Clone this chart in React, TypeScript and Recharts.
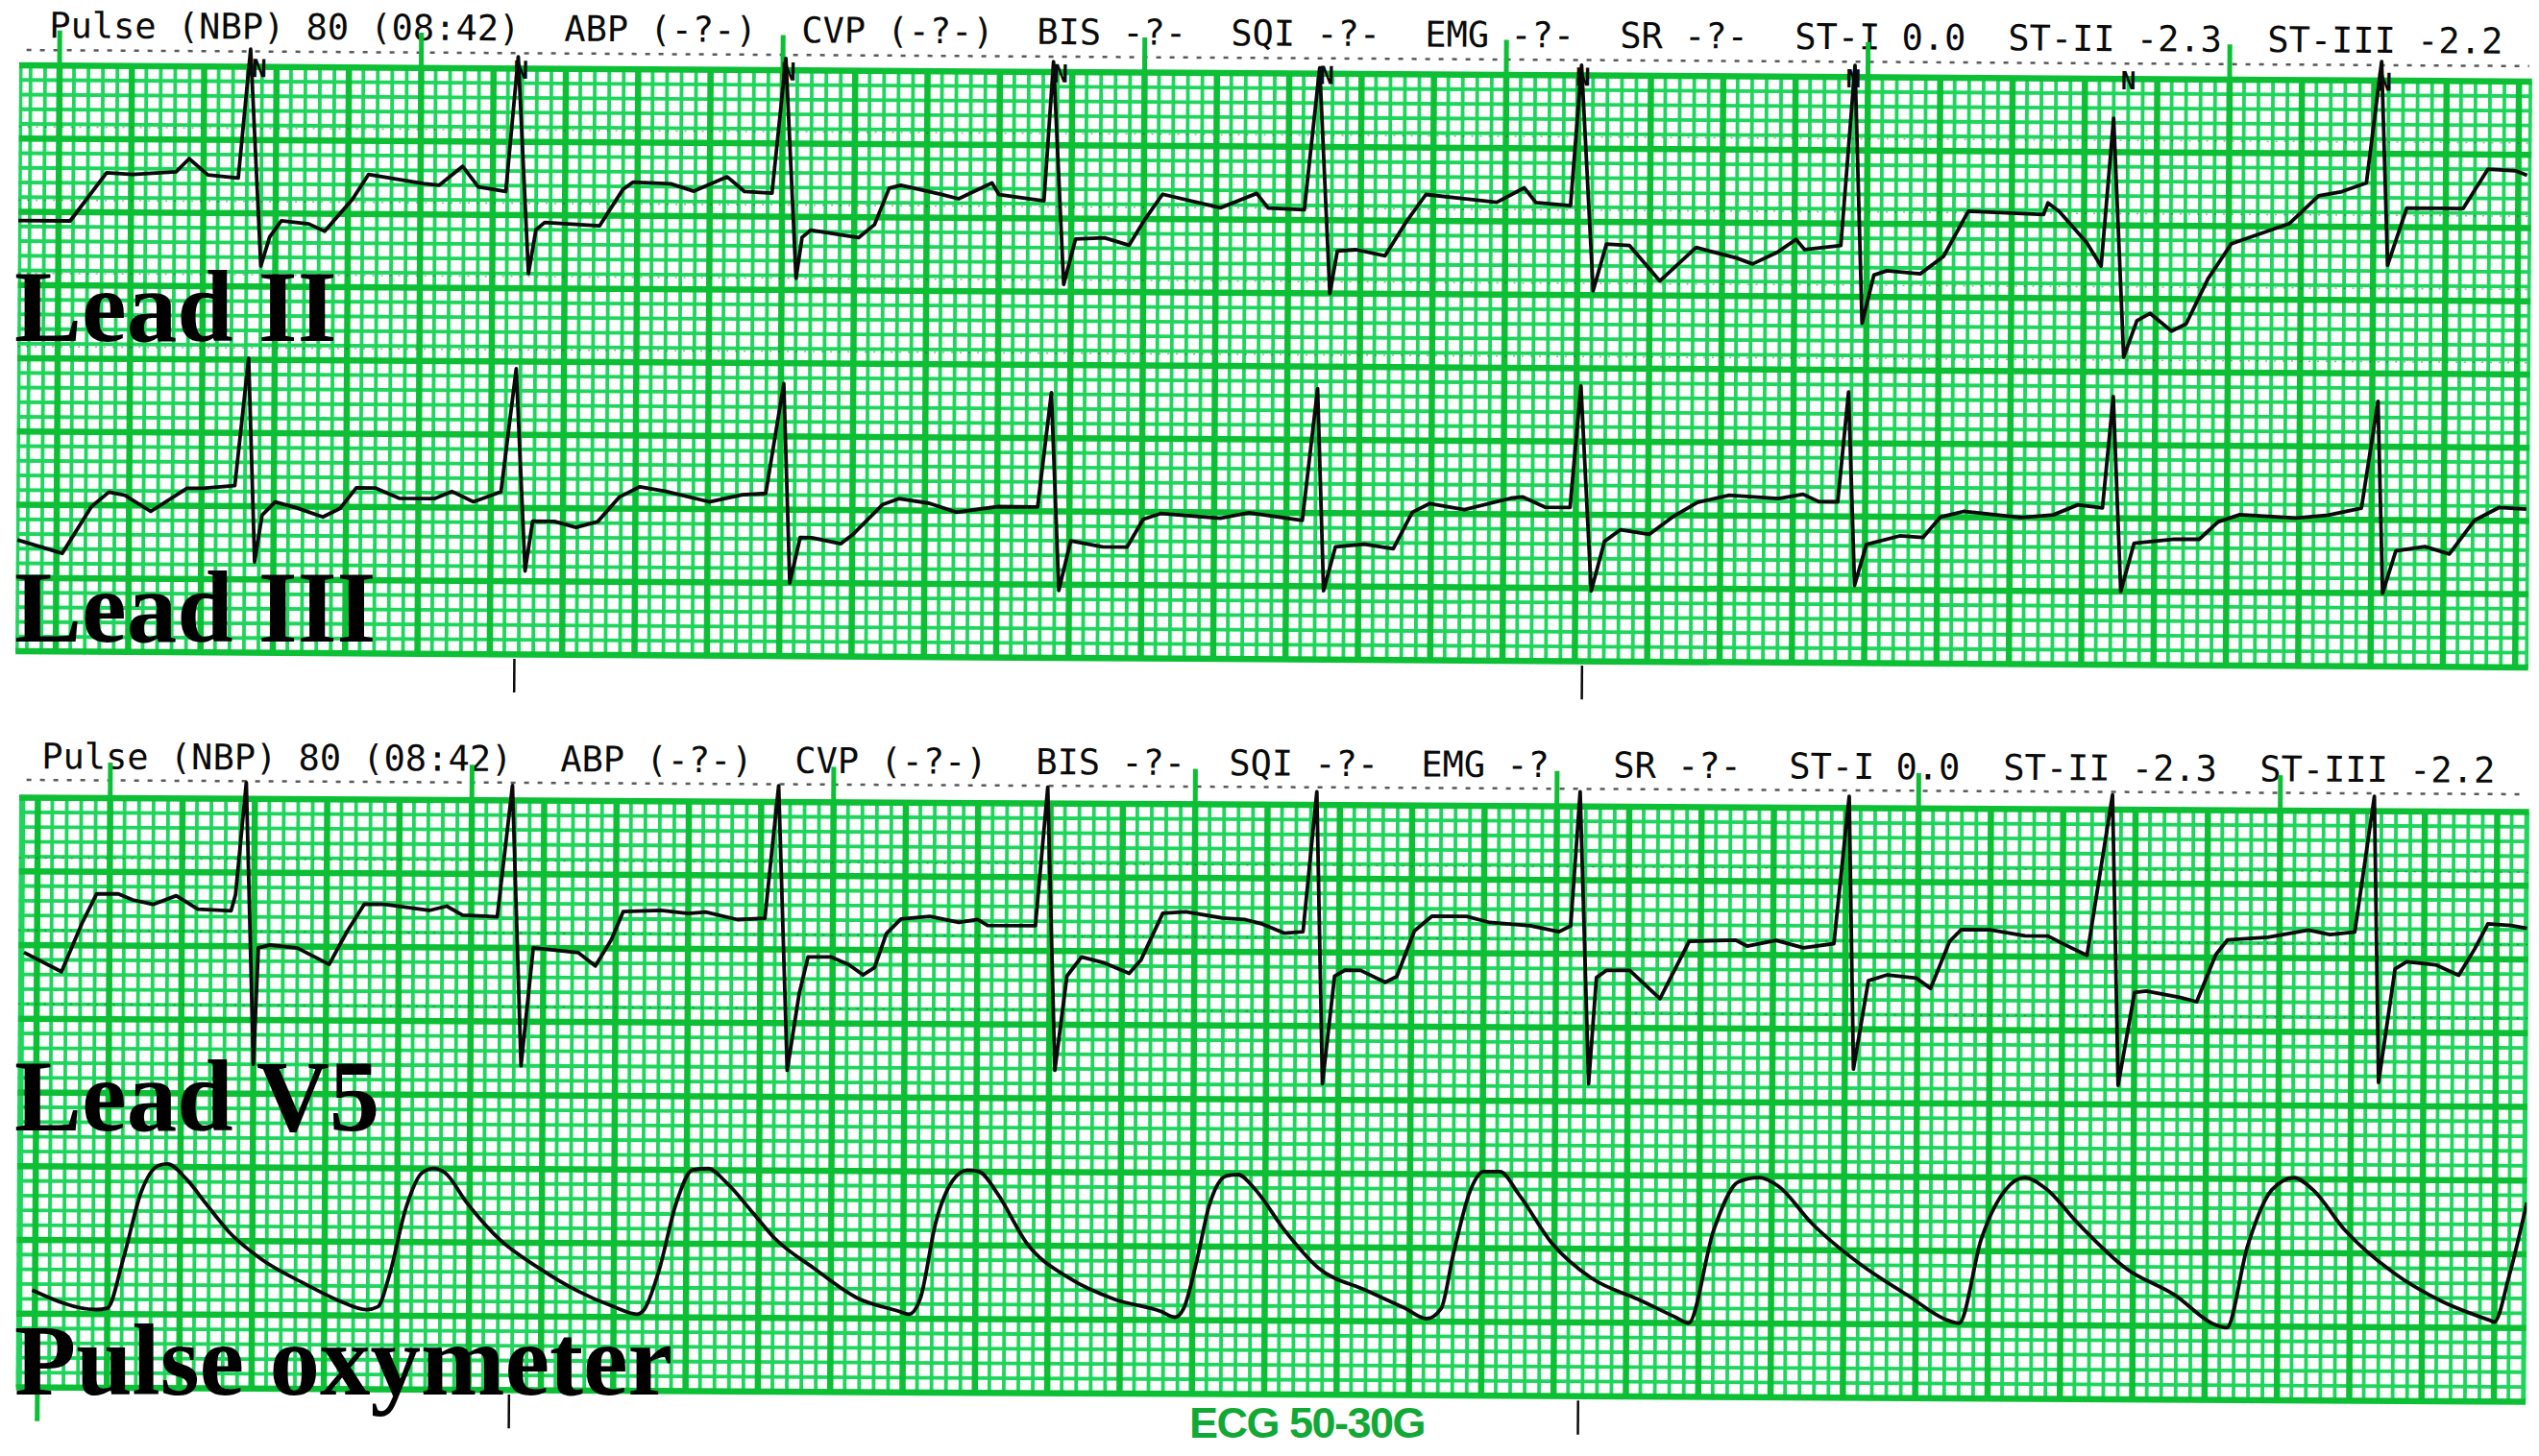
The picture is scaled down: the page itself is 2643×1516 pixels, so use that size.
import React from "react";
import { LineChart, Line, XAxis, YAxis, ReferenceLine, ReferenceDot } from "recharts";

// time in mm of paper (small squares), amplitude in mm above the strip's bottom edge
type Pt = [number, number];

const lead2: Pt[] = [
  [-2.8, 29.4], [0.8, 29.4], [3.3, 32.7], [5.1, 32.6], [8.1, 32.8], [9.0, 33.7], [10.3, 32.6], [12.4, 32.4],
  [13.2, 41.2], [14.0, 26.4], [14.6, 28.4], [15.4, 29.5], [17.3, 29.3], [18.4, 28.8], [20.3, 31.0], [21.4, 32.7],
  [25.2, 32.1], [26.3, 32.0], [27.9, 33.3], [29.0, 31.9], [30.9, 31.6], [31.7, 40.8], [32.5, 26.0], [33.0, 29.0],
  [33.6, 29.5], [37.4, 29.3], [39.0, 31.8], [39.7, 32.3], [42.3, 32.2], [43.9, 31.7], [46.2, 32.7], [47.4, 31.7],
  [49.3, 31.6], [50.2, 40.8], [51.0, 25.8], [51.4, 28.6], [52.0, 29.1], [55.3, 28.6], [56.4, 29.5], [57.4, 32.0],
  [58.2, 32.2], [61.0, 31.6], [62.2, 31.3], [64.5, 32.4], [65.0, 31.6], [68.1, 31.2], [68.7, 40.7], [69.5, 25.5],
  [70.3, 28.6], [72.3, 28.7], [74.0, 28.2], [75.1, 30.0], [76.3, 31.7], [80.3, 30.8], [82.8, 31.8], [83.6, 30.8],
  [86.1, 30.7], [87.1, 40.4], [87.9, 25.0], [88.4, 27.9], [89.7, 28.0], [91.7, 27.6], [93.2, 30.0], [94.5, 31.8],
  [99.4, 31.3], [101.3, 32.3], [102.1, 31.3], [104.5, 31.1], [105.2, 40.7], [106.1, 25.3], [107.0, 28.5], [108.6, 28.4],
  [110.7, 26.0], [113.2, 28.3], [116.0, 27.6], [117.1, 27.2], [118.8, 28.0], [120.1, 28.9], [120.7, 28.2], [123.2, 28.5],
  [124.1, 40.8], [124.7, 23.2], [125.5, 26.5], [126.4, 26.8], [128.7, 26.6], [130.3, 27.8], [132.0, 30.9], [137.2, 30.7],
  [137.5, 31.5], [138.3, 30.9], [140.2, 28.8], [141.2, 27.2], [142.0, 37.3], [142.8, 21.0], [143.7, 23.5], [144.6, 24.0],
  [146.1, 22.8], [147.1, 23.3], [148.6, 26.4], [150.2, 28.8], [152.2, 29.5], [154.2, 30.2], [156.2, 32.1], [157.8, 32.4],
  [159.5, 33.0], [160.5, 41.3], [161.0, 27.4], [162.3, 31.3], [166.2, 31.3], [167.9, 34.0], [169.8, 33.9], [170.6, 33.6],
];

const lead3: Pt[] = [
  [-2.7, 7.6], [0.4, 6.7], [2.4, 9.9], [3.6, 10.9], [4.7, 10.7], [6.5, 9.6], [9.0, 11.2], [10.1, 11.2],
  [12.3, 11.4], [13.2, 20.1], [13.7, 6.2], [14.2, 9.4], [15.1, 10.3], [16.6, 9.9], [18.4, 9.3], [19.6, 9.9],
  [20.7, 11.3], [22.0, 11.3], [23.7, 10.6], [26.1, 10.6], [27.3, 11.1], [28.8, 10.4], [30.7, 11.1], [31.7, 19.5],
  [32.4, 5.7], [32.9, 9.1], [34.4, 9.1], [35.9, 8.7], [37.4, 9.1], [38.9, 10.8], [40.3, 11.5], [42.1, 11.2],
  [45.1, 10.5], [47.4, 11.0], [49.0, 11.1], [50.2, 18.6], [50.7, 5.0], [51.4, 8.1], [52.2, 8.1], [54.2, 7.7],
  [55.0, 8.3], [57.1, 10.4], [58.2, 10.8], [60.3, 10.5], [62.2, 9.9], [65.0, 10.3], [67.8, 10.3], [68.7, 18.1],
  [69.3, 4.6], [70.1, 8.0], [72.3, 7.6], [74.0, 7.6], [75.1, 9.5], [76.3, 9.9], [80.4, 9.6], [82.4, 10.0],
  [86.1, 9.5], [87.1, 18.5], [87.6, 4.7], [88.4, 7.7], [90.4, 7.9], [92.4, 7.6], [93.7, 10.1], [94.9, 10.7],
  [97.3, 10.3], [100.5, 11.1], [101.3, 11.2], [102.9, 10.5], [104.6, 10.5], [105.3, 18.8], [106.1, 4.8], [107.0, 8.2],
  [108.1, 9.0], [110.1, 8.7], [111.7, 9.9], [113.4, 10.9], [115.6, 11.4], [119.0, 11.2], [120.7, 11.5], [121.8, 11.0],
  [123.1, 11.0], [123.8, 18.5], [124.3, 5.3], [125.1, 8.1], [127.4, 8.7], [129.0, 8.6], [130.2, 10.0], [131.8, 10.4],
  [135.8, 10.0], [138.0, 10.2], [139.7, 10.9], [141.4, 10.7], [142.1, 18.3], [142.7, 5.0], [143.6, 8.3], [146.4, 8.6],
  [148.1, 8.6], [149.4, 9.8], [150.9, 10.3], [154.8, 10.1], [157.0, 10.3], [159.3, 10.8], [160.4, 18.1], [160.8, 5.0],
  [161.7, 7.9], [163.7, 8.2], [165.4, 7.7], [167.1, 10.0], [168.8, 10.9], [170.7, 10.8],
];

const leadV5: Pt[] = [
  [-0.9, 29.5], [1.7, 28.2], [3.1, 31.5], [4.1, 33.5], [5.6, 33.5], [6.6, 33.1], [8.0, 32.8], [9.6, 33.4],
  [11.1, 32.5], [13.4, 32.4], [13.7, 33.5], [14.4, 41.1], [15.0, 22.0], [15.3, 29.9], [16.1, 30.1], [18.0, 29.9],
  [20.2, 28.8], [21.4, 31.0], [22.6, 32.9], [24.0, 32.9], [27.1, 32.5], [28.3, 32.8], [29.4, 32.2], [31.8, 32.1],
  [32.8, 41.0], [33.5, 22.0], [34.3, 30.0], [37.4, 29.7], [38.6, 28.8], [39.7, 30.6], [40.5, 32.5], [43.1, 32.6],
  [45.0, 32.4], [46.2, 32.5], [48.4, 32.0], [50.3, 32.1], [51.2, 41.1], [51.9, 21.8], [52.7, 27.0], [53.3, 29.5],
  [54.9, 29.5], [56.1, 29.0], [57.1, 28.3], [57.9, 28.8], [58.7, 31.1], [59.7, 32.1], [61.7, 32.3], [63.7, 31.9],
  [65.0, 32.1], [65.7, 31.7], [69.0, 31.7], [69.8, 41.1], [70.4, 21.9], [71.2, 28.3], [72.2, 29.6], [73.8, 29.2],
  [75.5, 28.5], [76.3, 29.4], [77.8, 32.6], [79.4, 32.7], [81.9, 32.3], [83.5, 32.2], [84.7, 31.9], [86.2, 31.3],
  [87.5, 31.4], [88.4, 40.9], [88.9, 21.1], [89.7, 28.4], [90.4, 28.8], [91.5, 28.8], [93.2, 28.0], [94.0, 28.4],
  [95.2, 31.5], [96.4, 32.5], [98.8, 32.5], [100.4, 32.1], [103.2, 31.9], [105.2, 31.5], [106.0, 31.9], [106.6, 41.0],
  [107.3, 21.2], [107.8, 28.4], [108.5, 28.9], [110.1, 28.9], [112.2, 27.0], [114.2, 30.9], [117.4, 31.0], [118.2, 30.6],
  [120.2, 31.0], [122.1, 30.5], [124.2, 30.8], [125.2, 40.8], [125.6, 22.3], [126.6, 28.3], [127.9, 28.7], [129.9, 28.5],
  [130.9, 27.8], [132.2, 31.0], [133.0, 31.8], [135.0, 31.8], [137.4, 31.4], [139.0, 31.4], [140.2, 30.8], [141.7, 30.1],
  [143.4, 41.0], [143.9, 21.3], [145.0, 27.6], [145.8, 27.7], [148.1, 27.3], [149.3, 27.0], [150.6, 30.2], [151.4, 31.2],
  [154.2, 31.4], [157.0, 31.9], [158.5, 31.6], [160.2, 31.8], [161.5, 41.0], [161.9, 21.6], [163.0, 29.3], [163.8, 29.8],
  [165.8, 29.6], [167.4, 28.9], [168.5, 30.7], [169.4, 32.4], [171.0, 32.3], [172.1, 32.1],
];

const pleth: Pt[] = [
  [-0.2, 6.6], [4.2, 5.3], [5.0, 5.4], [6.1, 8.8], [7.3, 13.3], [8.5, 15.1], [9.1, 15.2], [10.4, 14.2],
  [11.8, 12.5], [13.4, 10.6], [15.6, 8.8], [18.7, 7.1], [21.0, 6.0], [22.9, 5.4], [23.7, 5.6], [24.5, 7.8],
  [25.6, 12.3], [26.7, 14.7], [27.5, 15.0], [28.3, 14.7], [29.8, 12.7], [32.1, 10.2], [34.8, 8.3], [37.4, 6.8],
  [40.0, 5.7], [41.6, 5.2], [42.1, 5.5], [43.1, 8.1], [44.3, 12.8], [45.4, 15.0], [46.5, 15.1], [47.7, 14.2],
  [49.6, 12.1], [51.1, 10.4], [53.8, 8.4], [56.8, 6.4], [59.7, 5.5], [60.4, 5.3], [61.2, 6.4], [62.2, 11.4],
  [63.4, 14.4], [64.4, 15.1], [65.2, 15.0], [66.5, 13.5], [68.5, 10.2], [71.5, 7.8], [74.6, 6.4], [77.8, 5.6],
  [78.8, 5.2], [79.4, 5.8], [80.3, 9.1], [81.1, 12.7], [82.3, 14.8], [83.1, 14.9], [84.3, 13.9], [86.3, 11.2],
  [88.7, 8.6], [92.0, 7.1], [94.7, 5.9], [96.2, 5.2], [97.2, 5.9], [98.0, 9.5], [99.2, 14.0], [100.1, 15.2],
  [101.2, 15.2], [102.5, 13.7], [104.8, 10.4], [107.6, 8.0], [110.8, 6.6], [113.4, 5.4], [114.3, 5.0], [116.0, 11.3],
  [117.7, 14.6], [119.1, 14.9], [120.5, 14.3], [122.7, 11.9], [126.1, 9.1], [129.4, 7.0], [132.2, 5.3], [133.0, 5.1],
  [134.5, 10.8], [136.1, 14.1], [137.5, 15.0], [138.9, 14.3], [141.2, 11.9], [144.5, 8.9], [147.9, 7.1], [150.7, 5.1],
  [151.5, 4.9], [152.9, 10.4], [154.6, 14.3], [156.1, 15.1], [157.4, 14.3], [159.6, 11.6], [163.0, 8.7], [166.3, 6.8],
  [169.7, 5.5], [170.0, 5.4], [171.0, 8.5], [172.2, 13.5],
];

// beat markers and timing marks (mm along the strip)
const beatMarksTop = [13.8, 31.9, 50.4, 69.2, 87.6, 105.3, 124.0, 143.0, 160.7];
const secondMarksTop = [0, 25, 50, 75, 100, 125, 150];
const secondMarksBottom = [5, 30, 55, 80, 105, 130, 155];
const eventMarksTop = [31.7, 105.5];
const eventMarksBottom = [32.8, 106.7];

const headerTop = [
  "Pulse (NBP) 80 (08:42)", "ABP (-?-)", "CVP (-?-)", "BIS -?-", "SQI -?-",
  "EMG -?-", "SR -?-", "ST-I 0.0", "ST-II -2.3", "ST-III -2.2",
];
const headerBottom = [
  "Pulse (NBP) 80 (08:42)", "ABP (-?-)", "CVP (-?-)", "BIS -?-", "SQI -?-",
  "EMG -?", "SR -?-", "ST-I 0.0", "ST-II -2.3", "ST-III -2.2",
];

const HEADER_X_TOP = [31, 567, 814, 1059, 1261, 1463, 1666, 1848, 2070, 2340];
const HEADER_X_BOTTOM = [23, 563, 807, 1058, 1259, 1459, 1659, 1842, 2065, 2332];

const Y_MIN = -3;
const Y_MAX = 44;
const MM_X = 15.06;
const MINOR = "#1fd55c";
const MAJOR = "#0cbf35";
const INK = "#0a0a0a";

const rows = (pts: Pt[]) => pts.map(([t, v]) => ({ t, v }));

type Trace = { data: Pt[]; smooth?: boolean };

function Strip(props: {
  left: number; top: number; x0: number; x1: number; mmY: number; angle: number;
  traces: Trace[]; seconds: number[]; events: number[]; beats?: number[];
  dotted: number[]; dashY: number; header: string[]; headerX: number[]; headerTopPx: number;
  footGreen?: number[];
}) {
  const { left, top, x0, x1, mmY, angle } = props;
  const width = (x1 - x0) * MM_X;
  const height = (Y_MAX - Y_MIN) * mmY;
  const chartTop = -(Y_MAX - 40) * mmY;

  const minorX: number[] = [];
  const majorX: number[] = [];
  for (let k = Math.ceil(x0); k <= Math.floor(x1); k++) (k % 5 === 0 ? majorX : minorX).push(k);
  const minorY: number[] = [];
  const majorY: number[] = [];
  for (let k = 0; k <= 40; k++) (k % 5 === 0 ? majorY : minorY).push(k);

  return (
    <div
      style={{
        position: "absolute", left, top, width, height: 40 * mmY,
        transform: `rotate(${angle}deg)`, transformOrigin: "0 0",
      }}
    >
      {props.header.map((s, i) => (
        <div
          key={i}
          style={{
            position: "absolute", left: props.headerX[i], top: props.headerTopPx,
            fontFamily: "'DejaVu Sans Mono', monospace", fontSize: 37, lineHeight: 1,
            whiteSpace: "pre", color: INK,
          }}
        >
          {s}
        </div>
      ))}
      <div style={{ position: "absolute", left: 0, top: chartTop }}>
        <LineChart width={width} height={height} margin={{ top: 0, right: 0, bottom: 0, left: 0 }}>
          <XAxis type="number" dataKey="t" domain={[x0, x1]} hide allowDataOverflow />
          <YAxis type="number" domain={[Y_MIN, Y_MAX]} hide allowDataOverflow />
          {minorX.map((k) => (
            <ReferenceLine key={"mx" + k} ifOverflow="visible" segment={[{ x: k, y: 0 }, { x: k, y: 40 }]} stroke={MINOR} strokeWidth={3.8} />
          ))}
          {minorY.map((k) => (
            <ReferenceLine key={"my" + k} ifOverflow="visible" segment={[{ x: x0, y: k }, { x: x1, y: k }]} stroke={MINOR} strokeWidth={3.8} />
          ))}
          <ReferenceLine ifOverflow="visible" segment={[{ x: x0 + 0.1, y: 0 }, { x: x0 + 0.1, y: 40 }]} stroke={MINOR} strokeWidth={4} />
          <ReferenceLine ifOverflow="visible" segment={[{ x: x1 - 0.1, y: 0 }, { x: x1 - 0.1, y: 40 }]} stroke={MINOR} strokeWidth={4} />
          {majorX.map((k) => (
            <ReferenceLine key={"Mx" + k} ifOverflow="visible" segment={[{ x: k, y: 0 }, { x: k, y: 40 }]} stroke={MAJOR} strokeWidth={6.5} />
          ))}
          {majorY.map((k) => (
            <ReferenceLine key={"My" + k} ifOverflow="visible" segment={[{ x: x0, y: k }, { x: x1, y: k }]} stroke={MAJOR} strokeWidth={6.5} />
          ))}
          {props.dotted.map((y) => (
            <ReferenceLine key={"d" + y} ifOverflow="visible" segment={[{ x: x0, y }, { x: x1, y }]} stroke="#333" strokeOpacity={0.45} strokeWidth={1.5} strokeDasharray="2 7" />
          ))}
          <ReferenceLine ifOverflow="visible" segment={[{ x: x0 + 0.5, y: props.dashY }, { x: x1 - 0.2, y: props.dashY }]} stroke="#222" strokeOpacity={0.75} strokeWidth={2.5} strokeDasharray="5 9" />
          {props.seconds.map((x) => (
            <ReferenceLine key={"s" + x} ifOverflow="visible" segment={[{ x, y: 40 }, { x, y: 42.4 }]} stroke={MAJOR} strokeWidth={5} />
          ))}
          {(props.footGreen || []).map((x) => (
            <ReferenceLine key={"f" + x} ifOverflow="visible" segment={[{ x, y: 0 }, { x, y: -2.3 }]} stroke={MAJOR} strokeWidth={5} />
          ))}
          {props.events.map((x) => (
            <ReferenceLine key={"e" + x} ifOverflow="visible" segment={[{ x, y: -0.3 }, { x, y: -2.6 }]} stroke={INK} strokeWidth={2.5} />
          ))}
          {props.traces.map((tr, i) => (
            <Line
              key={i}
              data={rows(tr.data)}
              dataKey="v"
              type={tr.smooth ? "monotone" : "linear"}
              stroke={INK}
              strokeWidth={3.8}
              strokeLinejoin="round"
              dot={false}
              activeDot={false}
              isAnimationActive={false}
            />
          ))}
          {(props.beats || []).map((x) => (
            <ReferenceDot
              key={"n" + x}
              x={x}
              y={39.9}
              r={1}
              fill={INK}
              stroke="none"
              ifOverflow="visible"
              label={{ value: "N", position: "center", fontSize: 26, fontWeight: 700, fill: INK, fontFamily: "'DejaVu Sans Mono', monospace" }}
            />
          ))}
        </LineChart>
      </div>
    </div>
  );
}

const labelStyle: React.CSSProperties = {
  position: "absolute",
  left: 15,
  fontFamily: "'Liberation Serif', 'Times New Roman', serif",
  fontWeight: 700,
  fontSize: 105,
  lineHeight: 1,
  whiteSpace: "pre",
  color: "#000",
};

export default function App() {
  return (
    <div style={{ position: "absolute", left: 0, top: 0, width: 2643, height: 1516, background: "#fff", overflow: "hidden" }}>
      <Strip
        left={20} top={68} x0={-2.79} x1={170.9} mmY={15.25} angle={0.37}
        traces={[{ data: lead2 }, { data: lead3 }]}
        seconds={secondMarksTop} events={eventMarksTop} beats={beatMarksTop}
        dotted={[35.8, 30.8, 25.8, 20.8]} dashY={41.05}
        header={headerTop} headerX={HEADER_X_TOP} headerTopPx={-60}
      />
      <Strip
        left={20} top={830} x0={-1.29} x1={172.2} mmY={15.35} angle={0.33}
        traces={[{ data: leadV5 }, { data: pleth, smooth: true }]}
        seconds={secondMarksBottom} events={eventMarksBottom} footGreen={[0.2]}
        dotted={[35.9, 31.0, 26.0]} dashY={41.2}
        header={headerBottom} headerX={HEADER_X_BOTTOM} headerTopPx={-61}
      />
      <div style={{ ...labelStyle, top: 267 }}>Lead II</div>
      <div style={{ ...labelStyle, top: 580 }}>Lead III</div>
      <div style={{ ...labelStyle, top: 1089 }}>Lead V5</div>
      <div style={{ ...labelStyle, top: 1364 }}>Pulse oxymeter</div>
      <div
        style={{
          position: "absolute", left: 1238, top: 1459,
          fontFamily: "'Liberation Sans', Arial, sans-serif", fontWeight: 700,
          fontSize: 45, lineHeight: 1, letterSpacing: -1.5, color: "#12a836", whiteSpace: "pre",
        }}
      >
        ECG 50-30G
      </div>
    </div>
  );
}
